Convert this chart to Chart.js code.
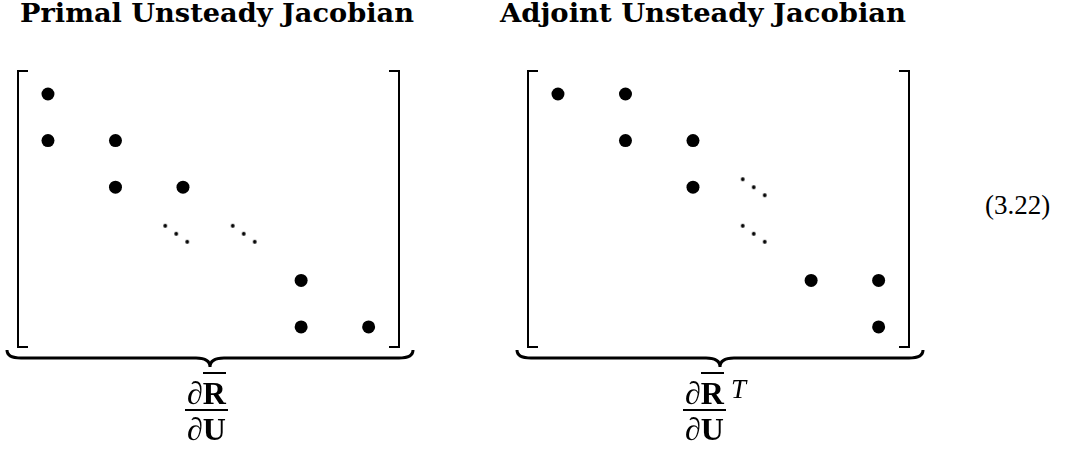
<!DOCTYPE html>
<html>
<head>
<meta charset="utf-8">
<script src="https://cdn.jsdelivr.net/npm/chart.js@4"></script>
<style>
  body { margin: 0; background: #fff; }
  #wrap { position: relative; width: 1072px; height: 450px; overflow: hidden; }
  canvas { position: absolute; top: 0; }
  .title { position: absolute; top: -2px; font-family: "DejaVu Serif", serif; font-weight: bold; font-size: 26px; white-space: nowrap; transform-origin: left top; }
  .frac { position: absolute; top: 377px; font-family: "Liberation Serif", "DejaVu Serif", serif; font-size: 32px; line-height: 1; text-align: center; }
  .frac .num, .frac .den { display: block; padding: 0 2px; }
  .frac .den { border-top: 2px solid #000; padding-top: 2px; }
  .bar { border-top: 2px solid #000; padding-top: 1px; font-weight: bold; }
  .b { font-weight: bold; }
  .sup { position: absolute; top: 374px; font-family: "Liberation Serif", serif; font-style: italic; font-size: 27px; }
  .eq { position: absolute; left: 985px; top: 190px; font-family: "Liberation Serif", serif; font-size: 27px; }
</style>
</head>
<body>
<div id="wrap">
  <div class="title" id="t1" style="left:20px">Primal Unsteady Jacobian</div>
  <div class="title" id="t2" style="left:500px">Adjoint Unsteady Jacobian</div>
  <canvas id="primal" width="430" height="450" style="left:0px"></canvas>
  <canvas id="adjoint" width="430" height="450" style="left:510px"></canvas>
  <div class="frac" id="f1" style="left:185px"><span class="num">∂<span class="bar">R</span></span><span class="den">∂<span class="b">U</span></span></div>
  <div class="frac" id="f2" style="left:683px"><span class="num">∂<span class="bar">R</span></span><span class="den">∂<span class="b">U</span></span></div>
  <div class="sup" style="left:731px">T</div>
  <div class="eq">(3.22)</div>
</div>
<script>
// matrix entries: column position (x) and row (y)
const primalDotX = [1, 1, 2, 2, 3, 4.75, 4.75, 5.75];
const primalDotY = [1, 2, 2, 3, 3, 5, 6, 6];
const primalDdotsX = [2.9, 3.9];
const primalDdotsY = [4, 4];

const adjointDotX = [1, 2, 2, 3, 3, 4.75, 5.75, 5.75];
const adjointDotY = [1, 1, 2, 2, 3, 5, 5, 6];
const adjointDdotsX = [3.9, 3.9];
const adjointDdotsY = [3, 4];

// fit titles to the width they take in the reference
function fitWidth(id, target) {
  const el = document.getElementById(id);
  const w = el.getBoundingClientRect().width;
  el.style.transform = 'scaleX(' + (target / w) + ')';
}
fitWidth('t1', 394);
fitWidth('t2', 406);

// the "\ddots" glyph as a point style
const ddots = document.createElement('canvas');
ddots.width = 28;
ddots.height = 22;
const dctx = ddots.getContext('2d');
dctx.fillStyle = '#000';
[[3, 3], [14, 11], [25, 19]].forEach(([x, y]) => {
  dctx.beginPath();
  dctx.arc(x, y, 1.9, 0, Math.PI * 2);
  dctx.fill();
});

const toPoints = (xs, ys) => xs.map((x, i) => ({ x: x, y: ys[i] }));

// brackets around the matrix and the brace below it
const matrixDecor = {
  id: 'matrixDecor',
  afterDraw(chart) {
    const { ctx, chartArea: a } = chart;
    ctx.save();
    ctx.strokeStyle = '#000';
    ctx.lineWidth = 2;
    ctx.beginPath();
    ctx.moveTo(a.left + 10, a.top);
    ctx.lineTo(a.left, a.top);
    ctx.lineTo(a.left, a.bottom);
    ctx.lineTo(a.left + 10, a.bottom);
    ctx.moveTo(a.right - 10, a.top);
    ctx.lineTo(a.right, a.top);
    ctx.lineTo(a.right, a.bottom);
    ctx.lineTo(a.right - 10, a.bottom);
    ctx.stroke();

    const x0 = a.left - 11, x1 = a.right + 14, xm = (x0 + x1) / 2;
    const y0 = a.bottom + 3, y1 = a.bottom + 11, yt = a.bottom + 20;
    ctx.lineWidth = 3;
    ctx.beginPath();
    ctx.moveTo(x0, y0);
    ctx.quadraticCurveTo(x0, y1, x0 + 14, y1);
    ctx.lineTo(xm - 14, y1);
    ctx.quadraticCurveTo(xm, y1, xm, yt);
    ctx.quadraticCurveTo(xm, y1, xm + 14, y1);
    ctx.lineTo(x1 - 14, y1);
    ctx.quadraticCurveTo(x1, y1, x1, y0);
    ctx.stroke();
    ctx.restore();
  },
};

function makeMatrix(id, dotX, dotY, ddX, ddY) {
  const ctx = document.getElementById(id).getContext('2d');
  return new Chart(ctx, {
    type: 'scatter',
    data: {
      datasets: [
        {
          label: 'entries',
          data: toPoints(dotX, dotY),
          pointStyle: 'circle',
          pointRadius: 6.5,
          backgroundColor: '#000',
          borderColor: '#000',
          borderWidth: 0,
        },
        {
          label: 'ddots',
          data: toPoints(ddX, ddY),
          pointStyle: ddots,
        },
      ],
    },
    options: {
      responsive: false,
      animation: false,
      layout: { padding: { left: 18, top: 71, right: 31, bottom: 103 } },
      scales: {
        x: { type: 'linear', min: 0.556, max: 6.2, display: false },
        y: { type: 'linear', min: 0.506, max: 6.43, reverse: true, display: false },
      },
      plugins: { legend: { display: false }, tooltip: { enabled: false } },
    },
    plugins: [matrixDecor],
  });
}

makeMatrix('primal', primalDotX, primalDotY, primalDdotsX, primalDdotsY);
makeMatrix('adjoint', adjointDotX, adjointDotY, adjointDdotsX, adjointDdotsY);
</script>
</body>
</html>
